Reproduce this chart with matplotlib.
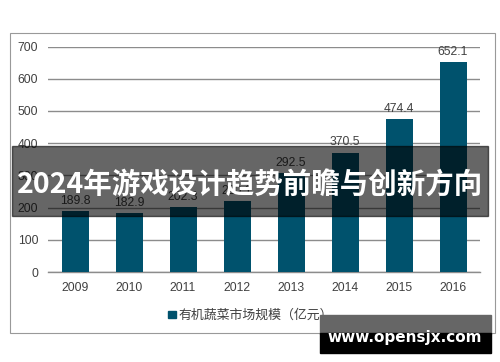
import matplotlib
matplotlib.use("Agg")
import matplotlib.pyplot as plt
from matplotlib.patches import Rectangle

# data
years = ['2009', '2010', '2011', '2012', '2013', '2014', '2015', '2016']
market_size = [189.8, 182.9, 202.0, 220.0, 307.0, 370.5, 474.4, 652.1]
bar_labels = ['189.8', '182.9', '202.3', '220.1', '292.5', '370.5', '474.4', '652.1']
y_ticks = [0, 100, 200, 300, 400, 500, 600, 700]
legend_text = '有机蔬菜市场规模（亿元）'
banner_title = '2024年游戏设计趋势前瞻与创新方向'
watermark = 'www.opensjx.com'

text_col = '#404040'
bar_col = '#00526d'
grid_col = '#8c8c8c'

plt.rcParams['font.family'] = ['Liberation Sans', 'Noto Sans CJK SC', 'DejaVu Sans']

fig = plt.figure(figsize=(5, 3.62), dpi=100)
ax = fig.add_axes([0.096, 0.2486, 0.864, 0.6229])

x = range(len(years))
bars = ax.bar(x, market_size, width=0.5, color=bar_col, zorder=3)
for b, lab in zip(bars, bar_labels):
    ax.annotate(lab, (b.get_x() + b.get_width() / 2, b.get_height()),
                xytext=(0, 3), textcoords='offset points',
                ha='center', va='bottom', fontsize=8.7, color=text_col)

ax.set_xlim(-0.5, len(years) - 0.5)
ax.set_ylim(0, 700)
ax.set_yticks(y_ticks)
ax.set_xticks(list(x))
ax.set_xticklabels(years)
ax.tick_params(length=0, labelsize=8.7, colors=text_col)
ax.tick_params(axis='y', pad=7)
ax.tick_params(axis='x', pad=7)
ax.grid(axis='y', color=grid_col, linewidth=1, zorder=0)
for s in ['top', 'right', 'left']:
    ax.spines[s].set_visible(False)
ax.spines['bottom'].set_color(grid_col)
ax.spines['bottom'].set_linewidth(1)

# outer frame of the chart
fig.patches.append(Rectangle((0.02, 0.08), 0.97, 0.829, transform=fig.transFigure,
                             fill=False, edgecolor='#999999', linewidth=0.8))

# legend
fig.patches.append(Rectangle((0.336, 0.121), 0.015, 0.019, transform=fig.transFigure,
                             color=bar_col))
fig.text(0.357, 0.130, legend_text, fontsize=9.3, color=text_col,
         ha='left', va='center', family=['Noto Sans CJK SC', 'DejaVu Sans'])

# dark banner with title
fig.patches.append(Rectangle((0.024, 0.403), 0.952, 0.194, transform=fig.transFigure,
                             color='black', alpha=0.6, zorder=5))
fig.text(0.5, 0.488, banner_title, fontsize=20.5, color='white', fontweight='bold',
         ha='center', va='center', zorder=6, family=['Noto Sans CJK SC', 'DejaVu Sans'])

# watermark box
fig.patches.append(Rectangle((0.64, 0.077), 0.342, 0.053, transform=fig.transFigure,
                             color='#666666', zorder=5))
fig.patches.append(Rectangle((0.64, 0.025), 0.342, 0.054, transform=fig.transFigure,
                             color='black', zorder=5))
fig.text(0.81, 0.069, watermark, fontsize=11, color='white', fontweight='bold',
         ha='center', va='center', zorder=6, family='DejaVu Sans')

fig.savefig('out.png', dpi=100)
